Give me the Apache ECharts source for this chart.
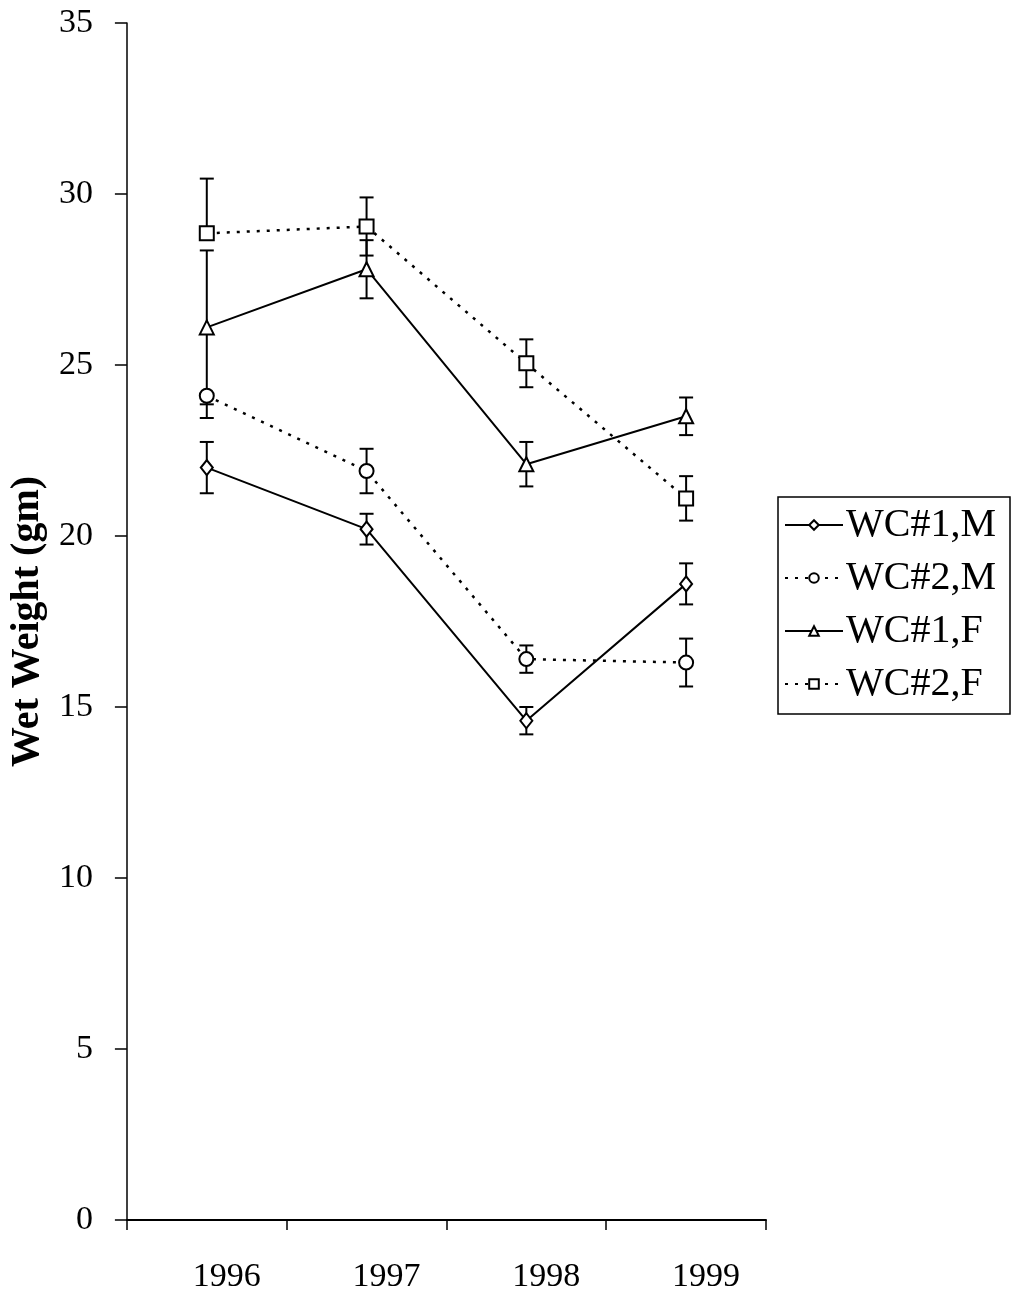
<!DOCTYPE html>
<html>
<head>
<meta charset="utf-8">
<script src="https://cdn.jsdelivr.net/npm/echarts@6/dist/echarts.min.js"></script>
<style>
html,body{margin:0;padding:0;background:#fff;}
#chart{width:1016px;height:1299px;}
</style>
</head>
<body>
<div id="chart"></div>
<script>
var years = ['1996', '1997', '1998', '1999'];
var seriesNames = ['WC#1,M', 'WC#2,M', 'WC#1,F', 'WC#2,F'];
var wc1M = [22.0, 20.2, 14.6, 18.6];
var wc1MErrUp = [0.75, 0.45, 0.4, 0.6];
var wc1MErrDown = [0.75, 0.45, 0.4, 0.6];
var wc2M = [24.1, 21.9, 16.4, 16.3];
var wc2MErrUp = [0, 0.65, 0.4, 0.7];
var wc2MErrDown = [0.65, 0.65, 0.4, 0.7];
var wc1F = [26.1, 27.8, 22.1, 23.5];
var wc1FErrUp = [2.25, 0.85, 0.65, 0.55];
var wc1FErrDown = [2.25, 0.85, 0.65, 0.55];
var wc2F = [28.85, 29.05, 25.05, 21.1];
var wc2FErrUp = [1.6, 0.85, 0.7, 0.65];
var wc2FErrDown = [0, 0.85, 0.7, 0.65];
var yTicks = [0, 5, 10, 15, 20, 25, 30, 35];

var FONT = '"Liberation Serif", "Times New Roman", serif';

function errData(vals, up, down) {
  return vals.map(function (v, i) { return [i, v, up[i], down[i]]; });
}
function errSeries(vals, up, down) {
  return {
    type: 'custom',
    name: 'err',
    silent: true,
    z: 1,
    data: errData(vals, up, down),
    renderItem: function (params, api) {
      var x = api.value(0), v = api.value(1), eu = api.value(2), ed = api.value(3);
      var top = api.coord([x, v + eu]);
      var bot = api.coord([x, v - ed]);
      var cw = 7;
      var st = { stroke: '#000', lineWidth: 2 };
      var children = [
        { type: 'line', shape: { x1: top[0], y1: top[1], x2: bot[0], y2: bot[1] }, style: st }
      ];
      if (eu > 0) children.push({ type: 'line', shape: { x1: top[0] - cw, y1: top[1], x2: top[0] + cw, y2: top[1] }, style: st });
      if (ed > 0) children.push({ type: 'line', shape: { x1: bot[0] - cw, y1: bot[1], x2: bot[0] + cw, y2: bot[1] }, style: st });
      return { type: 'group', children: children };
    }
  };
}
function lineSeries(name, vals, symbol, dotted) {
  return {
    type: 'line',
    name: name,
    data: vals,
    symbol: symbol,
    symbolSize: symbol === 'emptyDiamond' ? [12, 15] : 14,
    showAllSymbol: true,
    z: 3,
    itemStyle: { color: '#000', borderColor: '#000', borderWidth: 2 },
    lineStyle: { color: '#000', width: dotted ? 2.5 : 2, type: dotted ? [3, 7] : 'solid' },
    emphasis: { disabled: true },
    animation: false
  };
}

var chart = echarts.init(document.getElementById('chart'));
chart.setOption({
  backgroundColor: '#fff',
  animation: false,
  grid: { left: 126, right: 250, top: 23, bottom: 79, containLabel: false },
  legend: {
    data: seriesNames,
    orient: 'vertical',
    left: 778,
    top: 497,
    itemWidth: 58,
    itemHeight: 12,
    itemGap: 13,
    padding: [8, 14, 10, 6],
    borderColor: '#000',
    borderWidth: 1.5,
    textStyle: { fontFamily: FONT, fontSize: 40, color: '#000', lineHeight: 36, padding: [0, 0, 0, -2] },
    selectedMode: false
  },
  xAxis: {
    type: 'category',
    data: years,
    boundaryGap: true,
    axisLine: { lineStyle: { color: '#000', width: 2 } },
    axisTick: { show: true, length: 10, lineStyle: { color: '#000', width: 1.5 } },
    axisLabel: { fontFamily: FONT, fontSize: 34, color: '#000', margin: 40, padding: [0, 0, 0, 40] },
    splitLine: { show: false }
  },
  yAxis: {
    type: 'value',
    min: 0,
    max: 35,
    interval: 5,
    name: 'Wet Weight (gm)',
    nameLocation: 'middle',
    nameRotate: 90,
    nameGap: 56,
    nameTextStyle: { fontFamily: FONT, fontSize: 40, fontWeight: 'bold', color: '#000', padding: [0, 0, 0, 0] },
    axisLine: { show: true, lineStyle: { color: '#000', width: 1.5 } },
    axisTick: { show: true, length: 12, lineStyle: { color: '#000', width: 1.5 } },
    axisLabel: {
      fontFamily: FONT, fontSize: 34, color: '#000', margin: 34,
      formatter: function (v) { return yTicks.indexOf(v) >= 0 ? String(v) : ''; }
    },
    splitLine: { show: false }
  },
  series: [
    errSeries(wc1M, wc1MErrUp, wc1MErrDown),
    errSeries(wc2M, wc2MErrUp, wc2MErrDown),
    errSeries(wc1F, wc1FErrUp, wc1FErrDown),
    errSeries(wc2F, wc2FErrUp, wc2FErrDown),
    lineSeries(seriesNames[0], wc1M, 'emptyDiamond', false),
    lineSeries(seriesNames[1], wc2M, 'emptyCircle', true),
    lineSeries(seriesNames[2], wc1F, 'emptyTriangle', false),
    lineSeries(seriesNames[3], wc2F, 'emptyRect', true)
  ]
});
</script>
</body>
</html>
